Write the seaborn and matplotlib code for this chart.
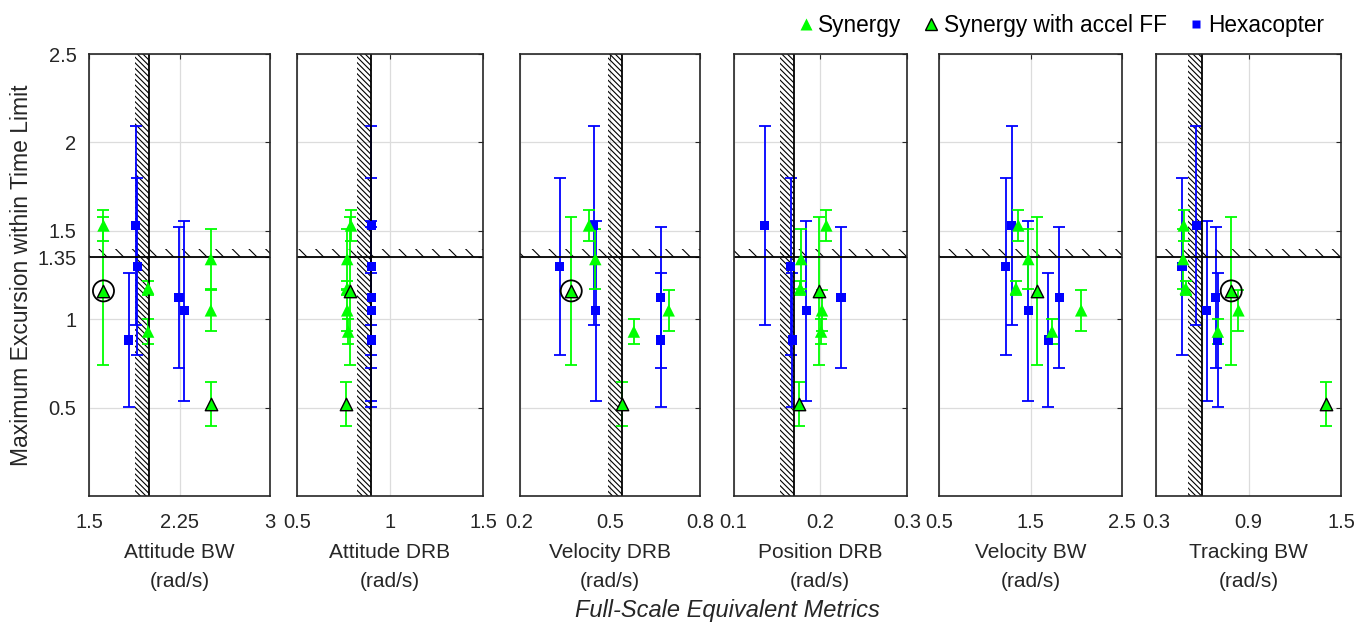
import numpy as np
import pandas as pd
import matplotlib
matplotlib.use("Agg")
import matplotlib.pyplot as plt
import matplotlib.transforms as mtransforms
from matplotlib.patches import Rectangle
from matplotlib.lines import Line2D
import seaborn as sns

nan = np.nan

# ---------------- data ----------------
metrics = ["Attitude BW", "Attitude DRB", "Velocity DRB", "Position DRB", "Velocity BW", "Tracking BW"]
unit_label = "(rad/s)"
xlims = [(1.5, 3.0), (0.5, 1.5), (0.2, 0.8), (0.1, 0.3), (0.5, 2.5), (0.3, 1.5)]
xticks = [[1.5, 2.25, 3], [0.5, 1, 1.5], [0.2, 0.5, 0.8], [0.1, 0.2, 0.3], [0.5, 1.5, 2.5], [0.3, 0.9, 1.5]]
xticklabels = [["1.5", "2.25", "3"], ["0.5", "1", "1.5"], ["0.2", "0.5", "0.8"],
               ["0.1", "0.2", "0.3"], ["0.5", "1.5", "2.5"], ["0.3", "0.9", "1.5"]]
metric_limits = [2.0, 0.9, 0.54, 0.17, nan, 0.60]
excursion_limit = 1.35
yticks = [0.5, 1, 1.35, 1.5, 2, 2.5]
yticklabels = ["0.5", "1", "1.35", "1.5", "2", "2.5"]

# Synergy
syn_y = [1.53, 1.34, 1.175, 1.05, 0.93]
syn_err = [0.09, 0.17, 0.04, 0.115, 0.07]
syn_x = {
    "Attitude BW":  [1.62, 2.51, 1.99, 2.51, 1.99],
    "Attitude DRB": [0.79, 0.77, 0.77, 0.77, 0.775],
    "Velocity DRB": [0.431, 0.452, nan, 0.696, 0.58],
    "Position DRB": [0.207, 0.178, 0.177, 0.202, 0.201],
    "Velocity BW":  [1.367, 1.476, 1.341, 2.054, 1.736],
    "Tracking BW":  [0.48, 0.476, 0.493, 0.835, 0.701],
}
# Synergy with accel FF
ff_y = [1.16, 0.52]
ff_err = [0.42, 0.125]
ff_x = {
    "Attitude BW":  [1.62, 2.51],
    "Attitude DRB": [0.787, 0.765],
    "Velocity DRB": [0.372, 0.541],
    "Position DRB": [0.198, 0.175],
    "Velocity BW":  [1.568, nan],
    "Tracking BW":  [0.788, 1.40],
}
circled = [True, False, True, False, False, True]
# Hexacopter
hex_y = [1.53, 1.30, 1.124, 1.048, 0.882]
hex_err = [0.56, 0.50, 0.40, 0.51, 0.38]
hex_x = {
    "Attitude BW":  [1.887, 1.899, 2.245, 2.289, 1.829],
    "Attitude DRB": [0.9, 0.9, 0.9, 0.9, 0.9],
    "Velocity DRB": [0.447, 0.333, 0.67, 0.453, 0.67],
    "Position DRB": [0.136, 0.166, 0.224, 0.184, 0.168],
    "Velocity BW":  [1.293, 1.228, 1.816, 1.476, 1.696],
    "Tracking BW":  [0.561, 0.469, 0.687, 0.630, 0.701],
}

rows = []
for m in metrics:
    for x, y, e in zip(syn_x[m], syn_y, syn_err):
        rows.append((m, "Synergy", x, y, e))
    for x, y, e in zip(ff_x[m], ff_y, ff_err):
        rows.append((m, "Synergy with accel FF", x, y, e))
    for x, y, e in zip(hex_x[m], hex_y, hex_err):
        rows.append((m, "Hexacopter", x, y, e))
df = pd.DataFrame(rows, columns=["metric", "group", "x", "y", "err"]).dropna()

# ---------------- style ----------------
sns.set_theme(style="white")
plt.rcParams["font.family"] = ["Liberation Sans", "DejaVu Sans"]
plt.rcParams["hatch.linewidth"] = 0.8
TXT = "#262626"
GREEN = "#00ff00"
BLUE = "#0000ff"

W, H = 1371, 624
fig = plt.figure(figsize=(W / 100, H / 100), dpi=100)
fig.patch.set_facecolor("white")

ax_px = [(89, 181), (297, 186), (519.5, 180.5), (733.5, 173.5), (939, 183), (1156, 185)]
top_px, bot_px = 54, 496

styles = {
    "Synergy": dict(marker="^", color=GREEN, edgecolor="none", linewidth=0, s=80),
    "Synergy with accel FF": dict(marker="^", color=GREEN, edgecolor="black", linewidth=1.0, s=80),
    "Hexacopter": dict(marker="s", color=BLUE, edgecolor="none", linewidth=0, s=44),
}
ecolors = {"Synergy": GREEN, "Synergy with accel FF": GREEN, "Hexacopter": BLUE}

for i, m in enumerate(metrics):
    l, w = ax_px[i]
    ax = fig.add_axes([l / W, (H - bot_px) / H, w / W, (bot_px - top_px) / H])
    ax.set_facecolor("white")
    x0, x1 = xlims[i]
    ax.set_xlim(x0, x1)
    ax.set_ylim(0, 2.5)
    ax.set_xticks(xticks[i])
    ax.set_xticklabels(xticklabels[i])
    ax.set_yticks(yticks)
    ax.set_yticklabels(yticklabels if i == 0 else [])
    ax.grid(True, color="#dcdcdc", linewidth=0.9, zorder=0)
    ax.set_axisbelow(True)
    ax.tick_params(direction="in", length=3.5, width=0.8, top=True, right=True,
                   colors=TXT, labelsize=14.5, labelleft=(i == 0))
    ax.tick_params(axis="x", pad=12)
    ax.tick_params(axis="y", pad=9)
    for sp in ax.spines.values():
        sp.set_color(TXT)
        sp.set_linewidth(1.2)
        sp.set_zorder(6)

    # threshold lines with hatching
    hband = 8 / ((bot_px - top_px) / 2.5)
    trans_h = mtransforms.blended_transform_factory(ax.transAxes, ax.transData)
    ax.add_patch(Rectangle((0, excursion_limit), 1, hband, transform=trans_h,
                           fill=False, hatch="\\\\", edgecolor="black", linewidth=0, zorder=1.5))
    ax.axhline(excursion_limit, color="black", linewidth=1.3, zorder=3)
    thr = metric_limits[i]
    if not np.isnan(thr):
        vband = 14 * (x1 - x0) / w
        trans_v = mtransforms.blended_transform_factory(ax.transData, ax.transAxes)
        ax.add_patch(Rectangle((thr - vband, 0), vband, 1, transform=trans_v,
                               fill=False, hatch="\\\\\\\\\\\\", edgecolor="black", linewidth=0, zorder=1.5))
        ax.axvline(thr, color="black", linewidth=1.3, zorder=3)

    sub = df[df.metric == m]
    for g in ["Hexacopter", "Synergy", "Synergy with accel FF"]:
        d = sub[sub.group == g]
        ax.errorbar(d.x, d.y, yerr=d.err, fmt="none", ecolor=ecolors[g], elinewidth=1.3,
                    capsize=4.5, capthick=1.3, zorder=2)
    for g in ["Hexacopter", "Synergy", "Synergy with accel FF"]:
        d = sub[sub.group == g]
        st = styles[g]
        sns.scatterplot(data=d, x="x", y="y", ax=ax, marker=st["marker"], color=st["color"],
                        edgecolor=st["edgecolor"], linewidth=st["linewidth"], s=st["s"],
                        zorder=4, legend=False)
    if circled[i]:
        d = sub[(sub.group == "Synergy with accel FF") & (sub.y == ff_y[0])]
        sns.scatterplot(data=d, x="x", y="y", ax=ax, marker="o", facecolor="none",
                        edgecolor="black", linewidth=1.3, s=230, zorder=5, legend=False)

    ax.set_xlabel(f"{m}\n{unit_label}", fontsize=15, color=TXT, linespacing=1.65, labelpad=8)
    if i == 0:
        ax.set_ylabel("Maximum Excursion within Time Limit", fontsize=16.5, color=TXT, labelpad=3)
    else:
        ax.set_ylabel("")

fig.text(727 / W, 13 / H, "Full-Scale Equivalent Metrics", style="italic",
         ha="center", va="center", fontsize=17, color=TXT)

handles = [
    Line2D([], [], linestyle="none", marker="^", markersize=9, markerfacecolor=GREEN, markeredgecolor="none"),
    Line2D([], [], linestyle="none", marker="^", markersize=9, markerfacecolor=GREEN, markeredgecolor="black", markeredgewidth=1.0),
    Line2D([], [], linestyle="none", marker="s", markersize=5.5, markerfacecolor=BLUE, markeredgecolor="none"),
]
leg = fig.legend(handles, ["Synergy", "Synergy with accel FF", "Hexacopter"],
                 loc="upper right", bbox_to_anchor=(1338 / W, 1.0), ncol=3, frameon=False,
                 fontsize=16.3, handletextpad=0.1, columnspacing=0.85, handlelength=0.9,
                 borderaxespad=0.2)
for t in leg.get_texts():
    t.set_color("black")

fig.savefig("out.png", dpi=100, facecolor="white")
